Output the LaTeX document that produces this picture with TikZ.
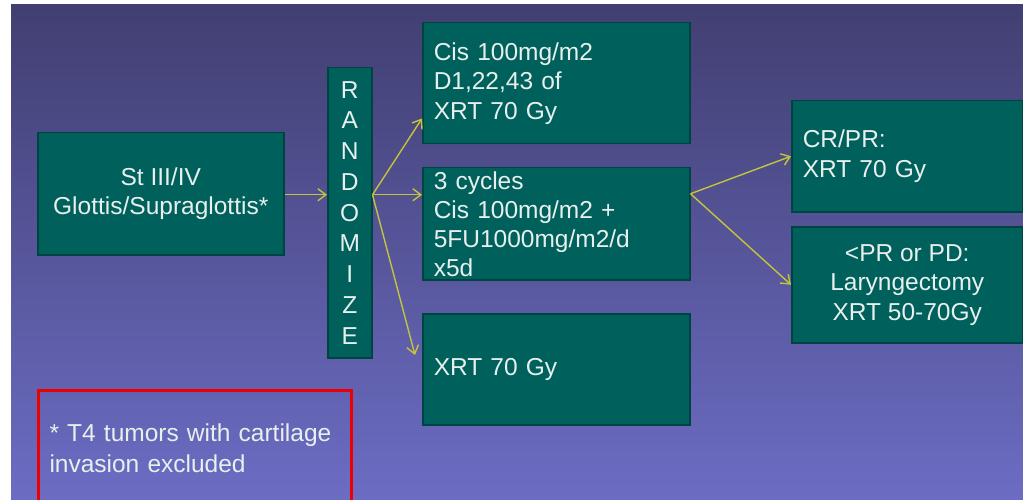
\documentclass[tikz,border=0pt]{standalone}
\usepackage{fontspec}
\setmainfont{Liberation Sans}
\usetikzlibrary{arrows.meta,positioning,calc}
\definecolor{slidetop}{RGB}{65,63,113}
\definecolor{slidebot}{RGB}{108,108,196}
\definecolor{tealbox}{RGB}{0,96,92}
\definecolor{tealedge}{RGB}{0,68,66}
\definecolor{boxtext}{RGB}{232,240,238}
\definecolor{armyellow}{RGB}{196,196,60}
\definecolor{alertred}{RGB}{238,0,0}
\tikzset{
  >={Straight Barb[length=8pt,width=12pt]},
  % rutor
  trial/.style={draw=tealedge,fill=tealbox,line width=1.5pt,text=boxtext,
                inner xsep=11pt,inner ysep=0pt,anchor=north west,
                font=\fontsize{24.5}{29.5}\selectfont},
  lbox/.style={trial,align=left,text width=#1},
  cbox/.style={trial,align=center,minimum width=#1},
  note/.style={draw=alertred,line width=3pt,text=boxtext,anchor=north west,
               align=left,inner xsep=11pt,inner ysep=0pt,text width=291pt,
               minimum height=115pt,font=\fontsize{24.5}{31}\selectfont},
  % pilar
  arm/.style={->,draw=armyellow,line width=1.4pt},
}
\begin{document}
\begin{tikzpicture}[x=1pt,y=-1pt]
  \clip (0,0) rectangle (1023,500);
  \fill[white] (0,0) rectangle (1023,500);
  \fill[top color=slidetop,bottom color=slidebot] (11,5) rectangle (1023,500);

  \node[cbox=246pt,minimum height=122pt] (st) at (37,132)
    {St III/IV\\Glottis/Supraglottis*};
  \node[cbox=44pt,inner xsep=0pt,minimum height=290pt,
        font=\fontsize{24.5}{30.75}\selectfont] (rand) at (327,67)
    {R\\A\\N\\D\\O\\M\\I\\Z\\E};
  \node[lbox=245pt,minimum height=121pt] (cis) at (422,22)
    {Cis 100mg/m2\\D1,22,43 of\\XRT 70 Gy};
  \node[lbox=245pt,minimum height=112pt,font=\fontsize{24.5}{29}\selectfont] (ind) at (422,167)
    {3 cycles\\Cis 100mg/m2 +\\5FU1000mg/m2/d\\x5d};
  \node[lbox=245pt,minimum height=111pt] (xrt) at (422,313)
    {XRT 70 Gy};
  \node[lbox=209pt,minimum height=111pt] (resp) at (791,100)
    {CR/PR:\\XRT 70 Gy};
  \node[cbox=231pt,inner xsep=0pt,minimum height=116pt] (fail) at (791,226)
    {<PR or PD:\\Laryngectomy\\XRT 50-70Gy};
  \node[note] (foot) at (37,389)
    {* T4 tumors with cartilage\\invasion excluded};

  \coordinate (split) at ([yshift=18pt]rand.east);
  \coordinate (fork) at ([yshift=30pt]ind.east);
  \draw[arm] ([yshift=-1pt]st.east) -- ([yshift=-1pt]st.east -| rand.west);
  \draw[arm] (split) -- ([yshift=26pt]cis.south west);
  \draw[arm] (split) -- (split -| ind.west);
  \draw[arm] (split) -- ([xshift=-7pt,yshift=-42pt]xrt.north west);
  \draw[arm] (fork) -- (resp.west);
  \draw[arm] (fork) -- (fail.west);
\end{tikzpicture}
\end{document}
